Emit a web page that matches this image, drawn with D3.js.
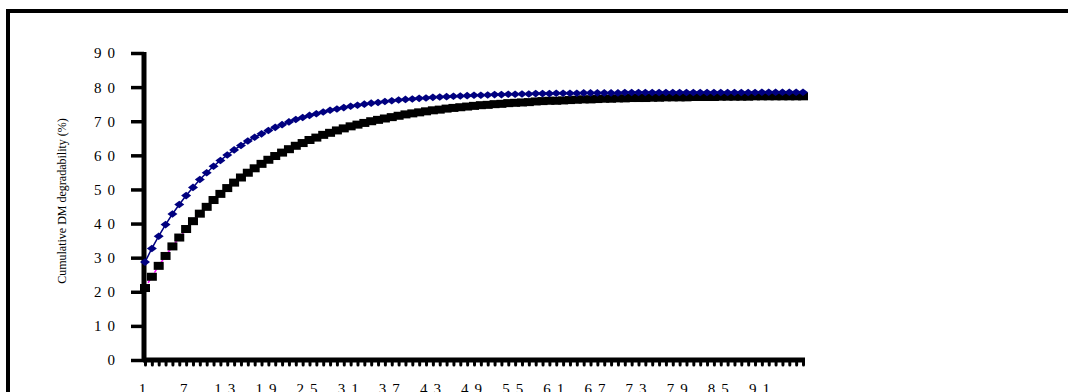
<!DOCTYPE html>
<html><head><meta charset="utf-8">
<script src="https://cdn.jsdelivr.net/npm/d3@7"></script>
<style>
html,body{margin:0;padding:0;background:#fff;}
svg{display:block;}
</style></head>
<body>
<svg id="chart" width="1068" height="392"></svg>
<script>
const categories = d3.range(1, 98);
const xTickLabels = [1, 7, 13, 19, 25, 31, 37, 43, 49, 55, 61, 67, 73, 79, 85, 91];
const yTickValues = [0, 10, 20, 30, 40, 50, 60, 70, 80, 90];
const yTitle = "Cumulative DM degradability (%)";

const seriesBlue = [
  28.7,32.7,36.3,39.7,42.8,45.6,48.2,50.6,52.9,54.9,
  56.8,58.5,60.1,61.6,62.9,64.2,65.3,66.3,67.3,68.2,
  69.0,69.8,70.5,71.1,71.7,72.2,72.7,73.2,73.6,74.0,
  74.4,74.7,75.0,75.3,75.5,75.8,76.0,76.2,76.4,76.5,
  76.7,76.8,77.0,77.1,77.2,77.3,77.4,77.5,77.6,77.6,
  77.7,77.8,77.8,77.9,77.9,78.0,78.0,78.1,78.1,78.1,
  78.2,78.2,78.2,78.2,78.3,78.3,78.3,78.3,78.3,78.3,
  78.4,78.4,78.4,78.4,78.4,78.4,78.4,78.4,78.4,78.4,
  78.4,78.4,78.4,78.4,78.4,78.4,78.4,78.4,78.4,78.4,
  78.5,78.5,78.5,78.5,78.5,78.5,78.5
];
const seriesBlack = [
  21.1,24.4,27.6,30.5,33.3,35.9,38.4,40.7,42.9,44.9,
  46.9,48.7,50.4,52.0,53.5,54.9,56.2,57.5,58.7,59.8,
  60.8,61.8,62.8,63.6,64.5,65.2,66.0,66.6,67.3,67.9,
  68.5,69.0,69.5,70.0,70.4,70.8,71.2,71.6,72.0,72.3,
  72.6,72.9,73.2,73.4,73.7,73.9,74.1,74.3,74.5,74.7,
  74.8,75.0,75.1,75.3,75.4,75.5,75.6,75.8,75.9,76.0,
  76.0,76.1,76.2,76.3,76.4,76.4,76.5,76.6,76.6,76.7,
  76.7,76.8,76.8,76.8,76.9,76.9,77.0,77.0,77.0,77.0,
  77.1,77.1,77.1,77.1,77.2,77.2,77.2,77.2,77.2,77.3,
  77.3,77.3,77.3,77.3,77.3,77.3,77.3
];

const svg = d3.select("#chart");

// outer frame (right/bottom edges lie outside the visible area)
svg.append("rect").attr("x", 8).attr("y", 11).attr("width", 1200).attr("height", 600)
  .attr("fill", "none").attr("stroke", "#000").attr("stroke-width", 4);

const x = d3.scalePoint().domain(categories).range([145, 803]);
const y = d3.scaleLinear().domain([0, 90]).range([360, 53]);

// Y axis
const yAxis = svg.append("g").attr("transform", "translate(144,0)")
  .call(d3.axisLeft(y).tickValues(yTickValues).tickSize(13).tickPadding(16).tickFormat(d3.format("d")));
yAxis.select(".domain").attr("stroke", "#000").attr("stroke-width", 5).attr("d", `M0,${y(90)-1}V${y(0)+2}`);
yAxis.selectAll(".tick line").attr("stroke", "#000").attr("stroke-width", 3.5);
yAxis.selectAll(".tick text").attr("font-family", "Liberation Serif, Times New Roman, serif")
  .attr("font-size", 15).attr("fill", "#000").attr("letter-spacing", "6px").attr("dx", 6).attr("dy", "0.33em");

// X axis
const xAxis = svg.append("g").attr("transform", "translate(0,360)")
  .call(d3.axisBottom(x).tickValues(categories).tickSize(5).tickFormat(d => xTickLabels.includes(d) ? d : ""));
xAxis.select(".domain").attr("stroke", "#000").attr("stroke-width", 5).attr("d", `M${x(1)-2},0H${x(97)+2}`);
xAxis.selectAll(".tick line").attr("stroke", "#000").attr("stroke-width", 3).attr("stroke-linecap", "round");
xAxis.selectAll(".tick text").attr("font-family", "Liberation Serif, Times New Roman, serif")
  .attr("font-size", 15).attr("fill", "#000").attr("letter-spacing", "6px").attr("y", 23).attr("dy", "0.71em");

// Y title
svg.append("text").attr("transform", "translate(66,201) rotate(-90)")
  .attr("text-anchor", "middle").attr("font-family", "Liberation Serif, Times New Roman, serif")
  .attr("font-size", 12).attr("fill", "#000").text(yTitle);

const line = d3.line().x((d, i) => x(categories[i])).y(d => y(d));

// black series: magenta dashed line + black squares
svg.append("path").datum(seriesBlack).attr("d", line).attr("fill", "none")
  .attr("stroke", "#ff00ff").attr("stroke-width", 1.5).attr("stroke-dasharray", "4,2");
svg.append("g").selectAll("rect").data(seriesBlack).join("rect")
  .attr("x", (d, i) => x(categories[i]) - 5).attr("y", d => y(d) - 4)
  .attr("width", 10).attr("height", 8).attr("fill", "#000");

// blue series: navy line + diamonds
svg.append("path").datum(seriesBlue).attr("d", line).attr("fill", "none")
  .attr("stroke", "#000080").attr("stroke-width", 1.5);
svg.append("g").selectAll("path").data(seriesBlue).join("path")
  .attr("d", (d, i) => {
    const cx = x(categories[i]), cy = y(d);
    return `M${cx-5},${cy}L${cx},${cy-3.8}L${cx+5},${cy}L${cx},${cy+3.8}Z`;
  })
  .attr("fill", "#000080");
</script>
</body></html>
